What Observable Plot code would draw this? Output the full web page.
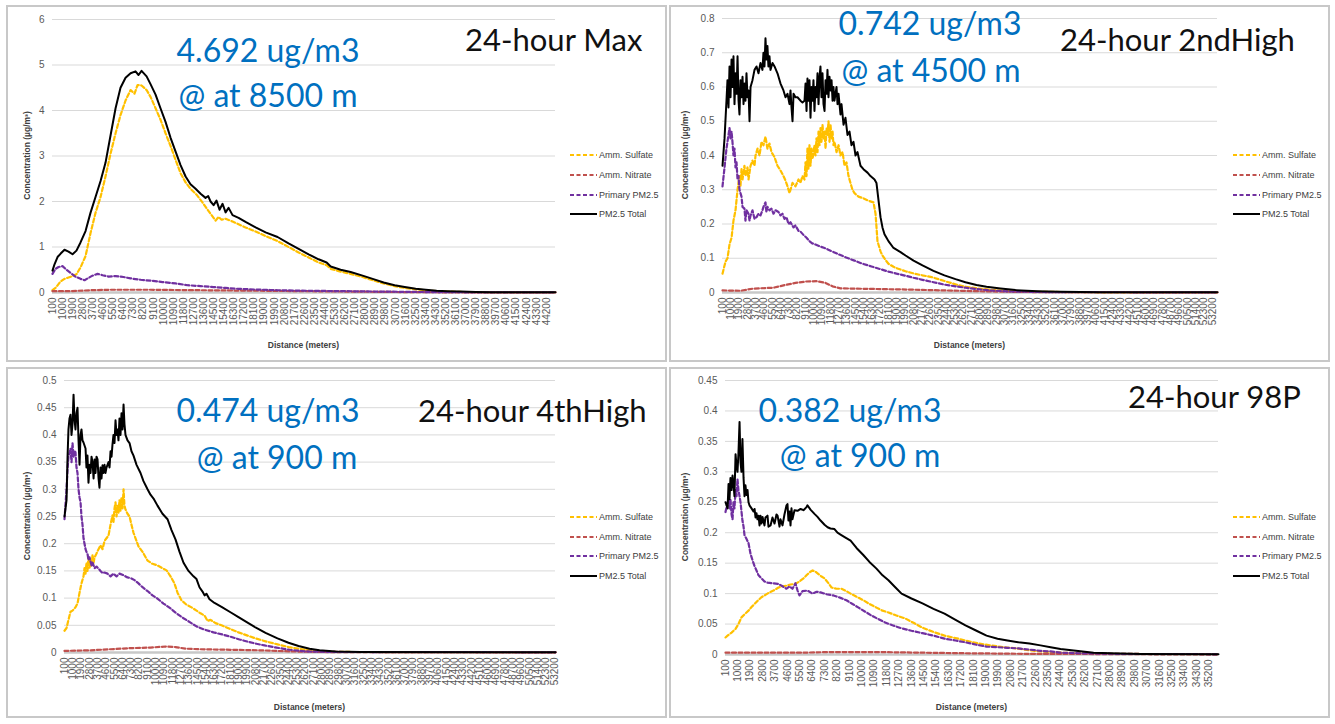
<!DOCTYPE html>
<html><head><meta charset="utf-8">
<script src="https://cdn.jsdelivr.net/npm/d3@7"></script>
<script src="https://cdn.jsdelivr.net/npm/@observablehq/plot@0.6"></script>
<style>
html,body{margin:0;padding:0;background:#fff;}
#page{position:relative;width:1335px;height:724px;overflow:hidden;background:#fff;}
.panel{position:absolute;}
.frame{position:absolute;border:2px solid #c8c8c8;box-sizing:border-box;pointer-events:none;}
#overlay{position:absolute;left:0;top:0;pointer-events:none;}
</style></head><body><div id="page"></div>
<script>
// ---------- tick labels ----------
const distanceTicks = [100,1000,1900,2800,3700,4600,5500,6400,7300,8200,9100,10000,10900,11800,12700,13600,14500,15400,16300,17200,18100,19000,19900,20800,21700,22600,23500,24400,25300,26200,27100,28000,28900,29800,30700,31600,32500,33400,34300,35200,36100,37000,37900,38800,39700,40600,41500,42400,43300,44200,45100,46000,46900,47800,48700,49600,50500,51400,52300,53200];
const yTicksMax = [0,1,2,3,4,5,6];
const yTicks2nd = [0,0.1,0.2,0.3,0.4,0.5,0.6,0.7,0.8];
const yTicks4th = [0,0.05,0.1,0.15,0.2,0.25,0.3,0.35,0.4,0.45,0.5];
const yTicks98 = [0,0.05,0.1,0.15,0.2,0.25,0.3,0.35,0.4,0.45];
const seriesNames = ["Amm. Sulfate","Amm. Nitrate","Primary PM2.5","PM2.5 Total"];
const panelTitles = ["24-hour Max","24-hour 2ndHigh","24-hour 4thHigh","24-hour 98P"];
const peakValues = ["4.692 ug/m3","0.742 ug/m3","0.474 ug/m3","0.382 ug/m3"];
const peakDistances = ["@ at 8500 m","@ at 4500 m","@ at 900 m","@ at 900 m"];

// ---------- 24-hour Max : [distance m, concentration] ----------
const maxSulfate = [[100,0.05],[370,0.10],[810,0.24],[1170,0.30],[1530,0.33],[1890,0.36],[2240,0.40],[2600,0.55],[3050,0.80],[3490,1.30],[3940,1.75],[4390,2.10],[4830,2.55],[5280,3.05],[5730,3.50],[6170,3.90],[6620,4.22],[7070,4.45],[7420,4.37],[7690,4.56],[8050,4.55],[8500,4.45],[8850,4.30],[9300,4.05],[9740,3.80],[10190,3.50],[10640,3.22],[11080,2.92],[11530,2.62],[11980,2.42],[12420,2.28],[12960,2.15],[13490,1.98],[13940,1.82],[14300,1.70],[14660,1.58],[14920,1.66],[15190,1.60],[15550,1.62],[16170,1.56],[16710,1.50],[17330,1.43],[18230,1.34],[19120,1.24],[20190,1.13],[21170,1.00],[22070,0.88],[22960,0.77],[23850,0.66],[24570,0.60],[24930,0.52],[25820,0.46],[26710,0.41],[27780,0.34],[28680,0.27],[29660,0.20],[30640,0.14],[31540,0.10],[32520,0.07],[33410,0.05],[34390,0.03],[35380,0.02],[36540,0.012],[37870,0.006],[40110,0.003],[45000,0.002]];
const maxNitrate = [[100,0.03],[1710,0.03],[3490,0.05],[5280,0.06],[8850,0.06],[13320,0.05],[17780,0.04],[22250,0.03],[26710,0.02],[31180,0.01],[35640,0.003],[45000,0.001]];
const maxPrimary = [[100,0.41],[370,0.52],[640,0.56],[990,0.58],[1350,0.50],[1710,0.43],[2150,0.35],[2600,0.30],[2960,0.27],[3310,0.32],[3670,0.37],[4120,0.41],[4570,0.38],[5100,0.35],[5730,0.36],[6440,0.34],[7070,0.31],[7960,0.28],[8850,0.26],[9920,0.23],[11080,0.20],[12160,0.16],[13320,0.14],[14480,0.12],[15550,0.10],[16710,0.08],[18230,0.065],[20190,0.05],[22250,0.04],[25820,0.03],[29390,0.02],[33410,0.01],[37430,0.004],[45000,0.002]];
const maxTotal = [[100,0.48],[280,0.62],[550,0.78],[810,0.85],[1170,0.94],[1530,0.90],[1890,0.84],[2240,0.92],[2600,1.10],[3050,1.35],[3490,1.75],[3940,2.10],[4390,2.45],[4830,2.85],[5280,3.45],[5730,4.05],[6170,4.50],[6620,4.72],[7070,4.82],[7510,4.86],[7780,4.78],[8050,4.87],[8500,4.75],[8850,4.58],[9300,4.35],[9740,4.05],[10190,3.75],[10640,3.40],[11080,3.10],[11530,2.80],[11980,2.55],[12420,2.38],[12870,2.28],[13320,2.17],[13760,2.08],[14000,2.12],[14210,2.00],[14480,1.92],[14740,2.02],[15010,1.82],[15280,1.95],[15550,1.76],[15820,1.86],[16170,1.70],[16710,1.64],[17330,1.55],[18230,1.43],[19120,1.32],[20190,1.22],[21170,1.08],[22070,0.96],[22960,0.84],[23850,0.73],[24570,0.66],[24930,0.57],[25820,0.50],[26710,0.45],[27780,0.37],[28680,0.30],[29660,0.22],[30640,0.16],[31540,0.12],[32520,0.08],[33410,0.06],[34390,0.04],[35380,0.03],[36540,0.02],[37870,0.012],[39210,0.008],[41890,0.005],[45000,0.004]];

// ---------- 24-hour 2nd High ----------
const secSulfate = [[100,0.055],[425,0.09],[640,0.10],[860,0.14],[1080,0.16],[1290,0.21],[1510,0.24],[1730,0.30],[1940,0.34],[2050,0.31],[2160,0.36],[2270,0.33],[2480,0.37],[2590,0.34],[2810,0.365],[2920,0.33],[3140,0.37],[3350,0.385],[3570,0.37],[3680,0.40],[3900,0.42],[4110,0.40],[4330,0.44],[4540,0.43],[4760,0.455],[4970,0.42],[5190,0.435],[5410,0.41],[5740,0.395],[6060,0.37],[6390,0.356],[6710,0.34],[6930,0.327],[7150,0.31],[7360,0.29],[7470,0.30],[7690,0.32],[8010,0.31],[8340,0.33],[8550,0.32],[8770,0.34],[8990,0.33],[9100,0.38],[9210,0.34],[9310,0.42],[9420,0.36],[9530,0.43],[9640,0.37],[9750,0.42],[9860,0.39],[10070,0.43],[10180,0.40],[10290,0.45],[10400,0.41],[10510,0.47],[10620,0.43],[10720,0.48],[10830,0.44],[10940,0.49],[11050,0.45],[11160,0.47],[11270,0.42],[11380,0.48],[11480,0.46],[11590,0.50],[11700,0.44],[11810,0.49],[11920,0.45],[12030,0.47],[12130,0.43],[12240,0.44],[12460,0.41],[12680,0.43],[12890,0.40],[13110,0.41],[13330,0.37],[13540,0.38],[13760,0.34],[13970,0.32],[14190,0.30],[14410,0.29],[14840,0.28],[15380,0.275],[15930,0.268],[16470,0.263],[16690,0.23],[16900,0.15],[17230,0.12],[17440,0.108],[17770,0.095],[18090,0.084],[18640,0.075],[19070,0.070],[19940,0.062],[20910,0.055],[21780,0.050],[22760,0.045],[23730,0.037],[24600,0.030],[25570,0.022],[26440,0.017],[27740,0.012],[29150,0.008],[31320,0.004],[34570,0.002],[41080,0.0005],[53760,0.0003]];
const secNitrate = [[100,0.006],[2050,0.005],[3350,0.011],[4760,0.013],[5630,0.014],[6930,0.022],[8010,0.028],[9100,0.032],[10290,0.033],[11270,0.028],[12030,0.018],[12890,0.012],[15060,0.011],[19400,0.009],[24160,0.006],[29150,0.003],[34570,0.001],[53760,0.0003]];
const secPrimary = [[100,0.31],[320,0.365],[530,0.42],[750,0.46],[860,0.48],[970,0.45],[1080,0.47],[1180,0.44],[1290,0.40],[1400,0.42],[1510,0.365],[1620,0.38],[1730,0.33],[1840,0.34],[1940,0.30],[2160,0.28],[2270,0.25],[2480,0.245],[2590,0.21],[2700,0.24],[2920,0.23],[3030,0.21],[3140,0.225],[3350,0.24],[3570,0.215],[3790,0.22],[4000,0.23],[4220,0.225],[4430,0.24],[4540,0.25],[4760,0.263],[4860,0.235],[4970,0.25],[5190,0.24],[5410,0.245],[5630,0.23],[5850,0.24],[6170,0.235],[6390,0.225],[6600,0.23],[6820,0.215],[7040,0.22],[7250,0.20],[7470,0.205],[7800,0.19],[8010,0.196],[8340,0.18],[8550,0.178],[8880,0.168],[9210,0.16],[9530,0.15],[9860,0.143],[10180,0.14],[10620,0.135],[11160,0.13],[11810,0.122],[12570,0.113],[13430,0.103],[14410,0.093],[15280,0.084],[16250,0.076],[17230,0.068],[18090,0.061],[18960,0.055],[19940,0.049],[20810,0.043],[21780,0.037],[22970,0.030],[24160,0.023],[25360,0.018],[26440,0.014],[27740,0.010],[29150,0.006],[31320,0.003],[35660,0.001],[53760,0.0003]];
const secTotal = [[100,0.37],[320,0.45],[530,0.56],[640,0.62],[750,0.54],[860,0.66],[970,0.57],[1080,0.68],[1180,0.60],[1290,0.69],[1400,0.55],[1510,0.64],[1620,0.58],[1730,0.69],[1840,0.56],[1940,0.52],[2050,0.62],[2160,0.57],[2270,0.63],[2380,0.55],[2480,0.61],[2590,0.56],[2700,0.64],[2810,0.57],[2920,0.59],[3030,0.50],[3140,0.60],[3350,0.62],[3570,0.65],[3790,0.66],[4000,0.64],[4220,0.67],[4430,0.65],[4540,0.70],[4650,0.66],[4760,0.742],[4860,0.68],[4970,0.72],[5080,0.66],[5190,0.69],[5300,0.65],[5520,0.67],[5740,0.66],[6060,0.64],[6390,0.61],[6710,0.59],[6930,0.57],[7150,0.58],[7360,0.55],[7470,0.59],[7580,0.54],[7690,0.50],[7800,0.58],[8010,0.57],[8230,0.57],[8550,0.56],[8770,0.555],[8990,0.56],[9100,0.61],[9210,0.53],[9310,0.625],[9420,0.56],[9530,0.62],[9640,0.51],[9750,0.60],[9860,0.56],[9960,0.62],[10070,0.53],[10180,0.60],[10290,0.57],[10400,0.64],[10510,0.55],[10620,0.63],[10720,0.66],[10830,0.57],[10940,0.64],[11050,0.55],[11160,0.53],[11270,0.62],[11380,0.58],[11480,0.65],[11590,0.57],[11700,0.63],[11810,0.59],[11920,0.62],[12030,0.56],[12130,0.60],[12240,0.56],[12460,0.60],[12570,0.55],[12680,0.58],[12890,0.52],[13000,0.55],[13220,0.49],[13430,0.51],[13650,0.46],[13870,0.47],[14080,0.43],[14300,0.44],[14520,0.40],[14730,0.41],[15060,0.37],[15380,0.36],[15820,0.35],[16140,0.34],[16580,0.33],[16790,0.32],[17010,0.27],[17230,0.22],[17440,0.19],[17660,0.17],[17880,0.16],[18090,0.15],[18640,0.13],[19400,0.118],[19940,0.108],[20810,0.093],[21780,0.079],[22970,0.063],[24160,0.050],[25360,0.039],[26440,0.030],[27630,0.022],[28720,0.017],[30240,0.012],[31860,0.007],[34250,0.004],[36740,0.002],[41080,0.001],[53760,0.0005]];

// ---------- 24-hour 4th High ----------
const fourSulfate = [[100,0.04],[320,0.045],[530,0.06],[750,0.075],[970,0.077],[1290,0.083],[1510,0.09],[1730,0.11],[1940,0.127],[2160,0.14],[2270,0.155],[2380,0.145],[2480,0.165],[2590,0.15],[2700,0.175],[2810,0.155],[2920,0.17],[3030,0.16],[3140,0.18],[3250,0.165],[3360,0.175],[3570,0.182],[3790,0.19],[4000,0.197],[4220,0.19],[4440,0.205],[4650,0.21],[4870,0.215],[5090,0.235],[5300,0.252],[5410,0.24],[5520,0.265],[5630,0.276],[5740,0.25],[5850,0.27],[5950,0.257],[6060,0.28],[6170,0.26],[6280,0.285],[6390,0.265],[6500,0.30],[6600,0.27],[6710,0.263],[6930,0.255],[7150,0.25],[7360,0.235],[7580,0.22],[7800,0.21],[8120,0.195],[8560,0.185],[9100,0.169],[9640,0.163],[10180,0.16],[10720,0.155],[11160,0.151],[11590,0.14],[12020,0.127],[12350,0.11],[12780,0.096],[13320,0.088],[13870,0.083],[14410,0.077],[14840,0.072],[15280,0.068],[15600,0.058],[15930,0.060],[16470,0.054],[17120,0.050],[18090,0.043],[18960,0.037],[19940,0.031],[20800,0.026],[22000,0.020],[23190,0.015],[24380,0.010],[25470,0.007],[26660,0.004],[27740,0.002],[30020,0.001],[53320,0.0003]];
const fourNitrate = [[100,0.003],[2920,0.004],[5090,0.006],[7250,0.008],[9420,0.009],[11050,0.011],[12130,0.010],[13220,0.007],[14840,0.006],[18090,0.005],[21350,0.004],[24600,0.002],[28930,0.0008],[53320,0.0002]];
const fourPrimary = [[100,0.245],[320,0.30],[430,0.337],[530,0.36],[750,0.375],[860,0.35],[970,0.385],[1080,0.36],[1180,0.37],[1290,0.368],[1400,0.34],[1510,0.33],[1620,0.30],[1730,0.285],[1840,0.276],[1940,0.25],[2050,0.235],[2160,0.21],[2270,0.20],[2380,0.19],[2480,0.185],[2590,0.182],[2700,0.17],[2810,0.175],[3030,0.16],[3140,0.165],[3360,0.155],[3570,0.158],[3790,0.154],[4000,0.15],[4220,0.146],[4440,0.147],[4760,0.145],[5090,0.14],[5410,0.145],[5740,0.14],[6060,0.145],[6500,0.142],[6930,0.138],[7360,0.136],[7690,0.133],[8120,0.127],[8560,0.12],[9100,0.113],[9640,0.105],[10180,0.099],[10830,0.09],[11590,0.081],[12240,0.072],[13000,0.063],[13760,0.055],[14410,0.048],[15280,0.042],[16250,0.037],[17230,0.033],[18090,0.029],[19070,0.024],[19940,0.020],[20910,0.016],[21780,0.013],[23080,0.009],[24490,0.005],[26220,0.002],[28930,0.001],[53320,0.0003]];
const fourTotal = [[100,0.25],[320,0.28],[430,0.36],[530,0.41],[640,0.43],[750,0.437],[860,0.40],[970,0.42],[1080,0.474],[1180,0.43],[1290,0.41],[1400,0.44],[1510,0.45],[1620,0.39],[1730,0.345],[1840,0.40],[1940,0.41],[2050,0.39],[2160,0.386],[2380,0.375],[2480,0.34],[2590,0.362],[2700,0.312],[2810,0.345],[2920,0.33],[3030,0.36],[3140,0.35],[3250,0.32],[3360,0.355],[3460,0.33],[3570,0.36],[3680,0.355],[3790,0.32],[3890,0.303],[4000,0.34],[4110,0.32],[4220,0.344],[4330,0.33],[4440,0.345],[4540,0.33],[4650,0.34],[4870,0.35],[4980,0.34],[5090,0.37],[5200,0.36],[5300,0.382],[5410,0.40],[5520,0.385],[5630,0.427],[5740,0.40],[5850,0.41],[5950,0.39],[6060,0.43],[6170,0.40],[6280,0.44],[6390,0.41],[6500,0.456],[6600,0.42],[6710,0.40],[6930,0.39],[7150,0.385],[7360,0.37],[7580,0.362],[7910,0.345],[8340,0.33],[8660,0.315],[9100,0.30],[9420,0.29],[9750,0.283],[10180,0.27],[10720,0.255],[11270,0.245],[11700,0.225],[12130,0.208],[12570,0.185],[13000,0.165],[13540,0.150],[14080,0.140],[14410,0.135],[14730,0.120],[15060,0.112],[15280,0.105],[15490,0.108],[15820,0.098],[16360,0.091],[17120,0.084],[18090,0.074],[18960,0.065],[19940,0.055],[20800,0.046],[21890,0.036],[23190,0.026],[24380,0.018],[25470,0.012],[26660,0.007],[27740,0.004],[29480,0.002],[32190,0.001],[53320,0.0003]];

// ---------- 24-hour 98th percentile ----------
const p98Sulfate = [[100,0.028],[250,0.031],[540,0.036],[830,0.042],[1040,0.05],[1260,0.061],[1480,0.066],[1770,0.072],[1990,0.078],[2210,0.083],[2420,0.088],[2710,0.094],[3000,0.098],[3290,0.102],[3580,0.105],[3950,0.11],[4240,0.112],[4530,0.113],[4820,0.115],[5180,0.116],[5470,0.12],[5760,0.125],[5980,0.13],[6200,0.135],[6420,0.138],[6630,0.136],[6850,0.132],[7070,0.128],[7290,0.125],[7580,0.117],[7800,0.11],[8160,0.108],[8520,0.108],[8880,0.104],[9180,0.10],[9610,0.095],[10120,0.089],[10550,0.083],[11060,0.077],[11500,0.072],[11930,0.069],[12510,0.064],[13170,0.059],[13750,0.052],[14400,0.044],[15200,0.037],[16000,0.031],[16800,0.027],[17520,0.023],[18470,0.018],[19340,0.015],[20280,0.012],[21230,0.01],[22170,0.007],[23040,0.005],[24420,0.003],[25870,0.002],[28780,0.001],[35890,0.0003]];
const p98Nitrate = [[100,0.003],[5550,0.003],[7720,0.004],[11350,0.004],[14260,0.003],[17890,0.002],[22250,0.001],[35890,0.0003]];
const p98Primary = [[100,0.234],[250,0.25],[320,0.255],[390,0.24],[460,0.255],[540,0.23],[610,0.222],[680,0.25],[750,0.24],[830,0.27],[900,0.26],[970,0.288],[1040,0.27],[1120,0.26],[1190,0.25],[1260,0.235],[1330,0.22],[1410,0.21],[1480,0.196],[1620,0.19],[1770,0.183],[1920,0.165],[2060,0.155],[2210,0.145],[2350,0.138],[2500,0.13],[2710,0.125],[2930,0.12],[3150,0.118],[3510,0.117],[3950,0.116],[4240,0.112],[4530,0.108],[4750,0.112],[4960,0.108],[5180,0.117],[5330,0.105],[5470,0.097],[5690,0.104],[6050,0.105],[6420,0.1],[6710,0.103],[7000,0.102],[7430,0.099],[7940,0.097],[8450,0.093],[8880,0.089],[9320,0.083],[9760,0.077],[10260,0.07],[10700,0.064],[11210,0.058],[11640,0.053],[12220,0.048],[12880,0.043],[13600,0.039],[14400,0.035],[15200,0.031],[16000,0.026],[16800,0.023],[17520,0.02],[18320,0.016],[19050,0.013],[19850,0.012],[20570,0.011],[21370,0.01],[22170,0.008],[22970,0.006],[23700,0.005],[24420,0.003],[25870,0.002],[28780,0.001],[35890,0.0003]];
const p98Total = [[100,0.25],[250,0.24],[320,0.28],[390,0.255],[460,0.29],[540,0.27],[610,0.294],[680,0.28],[750,0.26],[830,0.329],[900,0.31],[970,0.30],[1040,0.33],[1120,0.382],[1190,0.316],[1260,0.30],[1330,0.354],[1410,0.29],[1480,0.26],[1550,0.278],[1620,0.262],[1700,0.27],[1770,0.25],[1840,0.245],[1990,0.24],[2130,0.235],[2210,0.239],[2280,0.225],[2350,0.232],[2420,0.222],[2500,0.228],[2570,0.212],[2640,0.228],[2710,0.215],[2790,0.226],[2930,0.212],[3000,0.225],[3150,0.228],[3220,0.21],[3370,0.212],[3510,0.225],[3660,0.215],[3800,0.23],[3880,0.228],[4020,0.21],[4090,0.222],[4240,0.212],[4380,0.23],[4530,0.245],[4600,0.247],[4670,0.22],[4750,0.235],[4820,0.212],[4890,0.24],[4960,0.222],[5110,0.237],[5330,0.236],[5550,0.239],[5760,0.237],[5980,0.242],[6050,0.245],[6270,0.238],[6560,0.231],[6780,0.226],[7000,0.22],[7290,0.213],[7510,0.209],[7720,0.207],[8010,0.206],[8230,0.2],[8450,0.197],[8810,0.192],[9180,0.187],[9610,0.175],[10120,0.163],[10550,0.152],[11060,0.141],[11500,0.13],[11930,0.122],[12440,0.11],[12880,0.1],[13600,0.092],[14400,0.084],[15200,0.075],[16000,0.067],[16800,0.057],[17520,0.048],[18320,0.039],[19050,0.031],[19850,0.026],[20570,0.023],[21370,0.02],[22170,0.018],[22970,0.015],[23700,0.012],[24420,0.009],[25220,0.007],[26020,0.005],[26820,0.003],[28050,0.002],[30230,0.001],[35890,0.0005]];

// ---------- layout / styles ----------
const colors = ["#FFC000","#C0504D","#7030A0","#000000"];
const panels = [
  {left:7, top:6, width:660, height:356, mL:45, mR:112, mT:13, mB:70, xMax:45000, yMax:6, yTicks:yTicksMax, series:[maxSulfate,maxNitrate,maxPrimary,maxTotal],
   legendX:570, legendY:[155,175,195,214], yTitleX:30, distY:348,
   t:{x:465,y:51}, v1:{x:268,y:62}, v2:{x:268,y:107}},
  {left:670, top:6, width:660, height:356, mL:52, mR:113, mT:12, mB:70, xMax:53760, yMax:0.8, yTicks:yTicks2nd, series:[secSulfate,secNitrate,secPrimary,secTotal],
   legendX:1233, legendY:[155,175,195,214], yTitleX:688, distY:348,
   t:{x:1060,y:51}, v1:{x:930,y:35}, v2:{x:931,y:82}},
  {left:7, top:368, width:660, height:350, mL:57, mR:112, mT:12, mB:66, xMax:53320, yMax:0.5, yTicks:yTicks4th, series:[fourSulfate,fourNitrate,fourPrimary,fourTotal],
   legendX:570, legendY:[517,537,556,576], yTitleX:30, distY:710,
   t:{x:418,y:422}, v1:{x:268,y:422}, v2:{x:277,y:469}},
  {left:670, top:368, width:660, height:350, mL:55, mR:112, mT:12, mB:64, xMax:35890, yMax:0.45, yTicks:yTicks98, series:[p98Sulfate,p98Nitrate,p98Primary,p98Total],
   legendX:1233, legendY:[517,537,556,576], yTitleX:688, distY:710,
   t:{x:1128,y:408}, v1:{x:850,y:422}, v2:{x:860,y:467}}
];

const page = document.getElementById("page");
const toRows = arr => arr.map(([d, v]) => ({d, v}));

panels.forEach((p, i) => {
  const ticks = distanceTicks.filter(t => t <= p.xMax);
  const lineMarks = p.series.map((s, k) => Plot.line(toRows(s), {
    x: "d", y: "v", stroke: colors[k],
    strokeWidth: k === 3 ? 2 : 2.2,
    strokeDasharray: k === 3 ? null : "4,2.5",
    strokeLinejoin: "round"
  }));
  const chart = Plot.plot({
    width: p.width, height: p.height,
    marginLeft: p.mL, marginRight: p.mR, marginTop: p.mT, marginBottom: p.mB,
    style: {fontFamily: "'Liberation Sans', Arial, sans-serif", background: "transparent", overflow: "visible"},
    x: {type: "linear", domain: [100, p.xMax]},
    y: {type: "linear", domain: [0, p.yMax]},
    marks: [
      Plot.gridY(p.yTicks, {stroke: "#d9d9d9", strokeOpacity: 1, strokeWidth: 1}),
      Plot.ruleY([0], {stroke: "#c8c8c8", strokeWidth: 2.5}),
      Plot.axisY(p.yTicks, {tickSize: 0, tickPadding: 8, fontSize: 10, fill: "#595959", tickFormat: d => String(d), label: null}),
      Plot.axisX(ticks, {tickRotate: -90, tickSize: 0, tickPadding: 5, fontSize: 10, fill: "#595959", tickFormat: d => String(d), label: null}),
      ...lineMarks
    ]
  });
  const div = document.createElement("div");
  div.className = "panel";
  div.style.left = p.left + "px"; div.style.top = p.top + "px";
  div.style.width = p.width + "px"; div.style.height = p.height + "px";
  div.appendChild(chart);
  page.appendChild(div);
  const fr = document.createElement("div");
  fr.className = "frame";
  fr.style.left = (p.left - 1) + "px"; fr.style.top = (p.top - 1) + "px";
  fr.style.width = (p.width + 1) + "px"; fr.style.height = (p.height + 1) + "px";
  page.appendChild(fr);
});

// ---------- overlay: titles, annotations, legends, axis titles ----------
const svgNS = "http://www.w3.org/2000/svg";
const ov = document.createElementNS(svgNS, "svg");
ov.setAttribute("id", "overlay");
ov.setAttribute("width", 1335); ov.setAttribute("height", 724);
page.appendChild(ov);
function txt(x, y, s, attrs) {
  const t = document.createElementNS(svgNS, "text");
  t.setAttribute("x", x); t.setAttribute("y", y);
  for (const k in attrs) t.setAttribute(k, attrs[k]);
  t.textContent = s;
  ov.appendChild(t);
  return t;
}
panels.forEach((p, i) => {
  txt(p.t.x, p.t.y, panelTitles[i], {"font-family": "Lato, 'Open Sans', sans-serif", "font-size": 31, fill: "#111"});
  txt(p.v1.x, p.v1.y, peakValues[i], {"font-family": "Lato, 'Open Sans', sans-serif", "font-size": 32, fill: "#0070C0", "text-anchor": "middle"});
  txt(p.v2.x, p.v2.y, peakDistances[i], {"font-family": "Lato, 'Open Sans', sans-serif", "font-size": 32, fill: "#0070C0", "text-anchor": "middle"});
  seriesNames.forEach((n, k) => {
    const y = p.legendY[k];
    const l = document.createElementNS(svgNS, "line");
    l.setAttribute("x1", p.legendX); l.setAttribute("x2", p.legendX + 27);
    l.setAttribute("y1", y); l.setAttribute("y2", y);
    l.setAttribute("stroke", colors[k]); l.setAttribute("stroke-width", k === 3 ? 2 : 2.2);
    if (k !== 3) l.setAttribute("stroke-dasharray", "4,2.5");
    ov.appendChild(l);
    txt(p.legendX + 29, y + 3, n, {"font-family": "'Liberation Sans', Arial, sans-serif", "font-size": 9, fill: "#404040"});
  });
  const plotLeft = p.left + p.mL, plotRight = p.left + p.width - p.mR;
  const plotTop = p.top + p.mT, plotBottom = p.top + p.height - p.mB;
  txt((plotLeft + plotRight) / 2, p.distY, "Distance (meters)", {"font-family": "'Liberation Sans', Arial, sans-serif", "font-size": 8.5, "font-weight": "bold", fill: "#404040", "text-anchor": "middle"});
  const cy = (plotTop + plotBottom) / 2;
  txt(0, 0, "Concentration (µg/m³)", {"font-family": "'Liberation Sans', Arial, sans-serif", "font-size": 8.5, "font-weight": "bold", fill: "#404040", "text-anchor": "middle", transform: `translate(${p.yTitleX},${cy}) rotate(-90)`});
});
</script></body></html>
